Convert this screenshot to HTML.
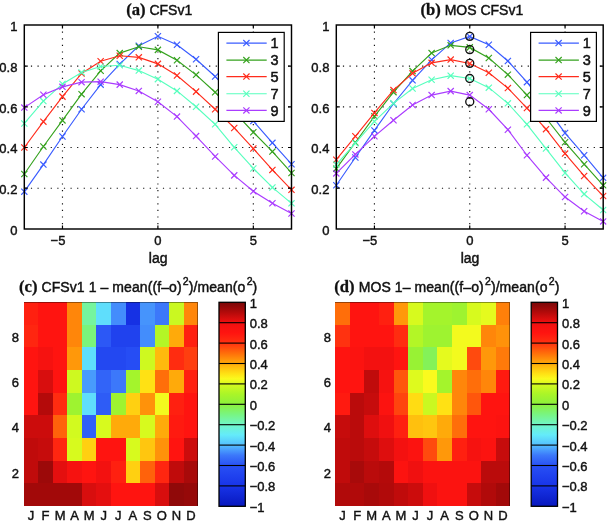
<!DOCTYPE html>
<html><head><meta charset="utf-8"><title>fig</title>
<style>
html,body{margin:0;padding:0;background:#fff;}
svg{display:block;will-change:transform}
.t{font-family:"Liberation Sans", sans-serif;font-size:13px;fill:#111;stroke:#111;stroke-width:0.42px}
.ti{font-family:"Liberation Sans", sans-serif;font-size:14px;fill:#111;stroke:#111;stroke-width:0.45px}
.lg{font-family:"Liberation Sans", sans-serif;font-size:14.5px;fill:#111;stroke:#111;stroke-width:0.5px}
.b{font-family:"Liberation Serif", serif;font-weight:bold;font-size:16.6px;stroke-width:0.3px}
.grid{stroke:#111;stroke-width:1.15;stroke-dasharray:1.2 5.4;}
</style></head><body>
<svg width="607" height="523" viewBox="0 0 607 523">
<rect width="607" height="523" fill="#fff"/>
<g>
<line x1="24.3" y1="188.2" x2="291.5" y2="188.2" class="grid"/>
<line x1="24.3" y1="147.5" x2="291.5" y2="147.5" class="grid"/>
<line x1="24.3" y1="106.8" x2="291.5" y2="106.8" class="grid"/>
<line x1="24.3" y1="66.1" x2="291.5" y2="66.1" class="grid"/>
<line x1="62.47" y1="25" x2="62.47" y2="229" class="grid"/>
<line x1="157.9" y1="25" x2="157.9" y2="229" class="grid"/>
<line x1="253.33" y1="25" x2="253.33" y2="229" class="grid"/>
<clipPath id="ca"><rect x="20.8" y="25" width="274.2" height="204"/></clipPath>
<g clip-path="url(#ca)">
<polyline points="24.3,191.66 43.39,164.59 62.47,136.51 81.56,109.24 100.64,84.62 119.73,64.06 138.81,45.75 157.9,36.29 176.99,44.81 196.07,59.24 215.16,76.48 234.24,97.85 253.33,121.05 272.41,142.82 291.5,164.19" fill="none" stroke="#3a5cff" stroke-width="1.15"/>
<path d="M21.2 188.56L27.4 194.76M21.2 194.76L27.4 188.56" stroke="#3a5cff" stroke-width="1.15" fill="none"/>
<path d="M40.29 161.49L46.49 167.69M40.29 167.69L46.49 161.49" stroke="#3a5cff" stroke-width="1.15" fill="none"/>
<path d="M59.37 133.41L65.57 139.61M59.37 139.61L65.57 133.41" stroke="#3a5cff" stroke-width="1.15" fill="none"/>
<path d="M78.46 106.14L84.66 112.34M78.46 112.34L84.66 106.14" stroke="#3a5cff" stroke-width="1.15" fill="none"/>
<path d="M97.54 81.52L103.74 87.72M97.54 87.72L103.74 81.52" stroke="#3a5cff" stroke-width="1.15" fill="none"/>
<path d="M116.63 60.96L122.83 67.16M116.63 67.16L122.83 60.96" stroke="#3a5cff" stroke-width="1.15" fill="none"/>
<path d="M135.71 42.65L141.91 48.85M135.71 48.85L141.91 42.65" stroke="#3a5cff" stroke-width="1.15" fill="none"/>
<path d="M154.8 33.19L161 39.39M154.8 39.39L161 33.19" stroke="#3a5cff" stroke-width="1.15" fill="none"/>
<path d="M173.89 41.71L180.09 47.91M173.89 47.91L180.09 41.71" stroke="#3a5cff" stroke-width="1.15" fill="none"/>
<path d="M192.97 56.14L199.17 62.34M192.97 62.34L199.17 56.14" stroke="#3a5cff" stroke-width="1.15" fill="none"/>
<path d="M212.06 73.38L218.26 79.58M212.06 79.58L218.26 73.38" stroke="#3a5cff" stroke-width="1.15" fill="none"/>
<path d="M231.14 94.75L237.34 100.95M231.14 100.95L237.34 94.75" stroke="#3a5cff" stroke-width="1.15" fill="none"/>
<path d="M250.23 117.95L256.43 124.14M250.23 124.14L256.43 117.95" stroke="#3a5cff" stroke-width="1.15" fill="none"/>
<path d="M269.31 139.72L275.51 145.92M269.31 145.92L275.51 139.72" stroke="#3a5cff" stroke-width="1.15" fill="none"/>
<path d="M288.4 161.09L294.6 167.29M288.4 167.29L294.6 161.09" stroke="#3a5cff" stroke-width="1.15" fill="none"/>
<polyline points="24.3,173.96 43.39,146.48 62.47,120.43 81.56,94.18 100.64,70.78 119.73,53.08 138.81,46.77 157.9,49.88 176.99,60.2 196.07,74.85 215.16,92.23 234.24,111.89 253.33,132.24 272.41,151.57 291.5,172.94" fill="none" stroke="#35a21e" stroke-width="1.15"/>
<path d="M21.2 170.86L27.4 177.06M21.2 177.06L27.4 170.86" stroke="#35a21e" stroke-width="1.15" fill="none"/>
<path d="M40.29 143.38L46.49 149.58M40.29 149.58L46.49 143.38" stroke="#35a21e" stroke-width="1.15" fill="none"/>
<path d="M59.37 117.33L65.57 123.53M59.37 123.53L65.57 117.33" stroke="#35a21e" stroke-width="1.15" fill="none"/>
<path d="M78.46 91.08L84.66 97.28M78.46 97.28L84.66 91.08" stroke="#35a21e" stroke-width="1.15" fill="none"/>
<path d="M97.54 67.68L103.74 73.88M97.54 73.88L103.74 67.68" stroke="#35a21e" stroke-width="1.15" fill="none"/>
<path d="M116.63 49.98L122.83 56.18M116.63 56.18L122.83 49.98" stroke="#35a21e" stroke-width="1.15" fill="none"/>
<path d="M135.71 43.67L141.91 49.87M135.71 49.87L141.91 43.67" stroke="#35a21e" stroke-width="1.15" fill="none"/>
<path d="M154.8 46.78L161 52.98M154.8 52.98L161 46.78" stroke="#35a21e" stroke-width="1.15" fill="none"/>
<path d="M173.89 57.1L180.09 63.3M173.89 63.3L180.09 57.1" stroke="#35a21e" stroke-width="1.15" fill="none"/>
<path d="M192.97 71.75L199.17 77.95M192.97 77.95L199.17 71.75" stroke="#35a21e" stroke-width="1.15" fill="none"/>
<path d="M212.06 89.13L218.26 95.33M212.06 95.33L218.26 89.13" stroke="#35a21e" stroke-width="1.15" fill="none"/>
<path d="M231.14 108.79L237.34 114.99M231.14 114.99L237.34 108.79" stroke="#35a21e" stroke-width="1.15" fill="none"/>
<path d="M250.23 129.14L256.43 135.34M250.23 135.34L256.43 129.14" stroke="#35a21e" stroke-width="1.15" fill="none"/>
<path d="M269.31 148.47L275.51 154.67M269.31 154.67L275.51 148.47" stroke="#35a21e" stroke-width="1.15" fill="none"/>
<path d="M288.4 169.84L294.6 176.04M288.4 176.04L294.6 169.84" stroke="#35a21e" stroke-width="1.15" fill="none"/>
<polyline points="24.3,147.5 43.39,121.66 62.47,96.62 81.56,73.43 100.64,61.22 119.73,55.72 138.81,57.35 157.9,63.86 176.99,75.46 196.07,91.62 215.16,109.24 234.24,127.96 253.33,148.52 272.41,169.89 291.5,189.83" fill="none" stroke="#ff2c1c" stroke-width="1.15"/>
<path d="M21.2 144.4L27.4 150.6M21.2 150.6L27.4 144.4" stroke="#ff2c1c" stroke-width="1.15" fill="none"/>
<path d="M40.29 118.56L46.49 124.76M40.29 124.76L46.49 118.56" stroke="#ff2c1c" stroke-width="1.15" fill="none"/>
<path d="M59.37 93.53L65.57 99.72M59.37 99.72L65.57 93.53" stroke="#ff2c1c" stroke-width="1.15" fill="none"/>
<path d="M78.46 70.33L84.66 76.53M78.46 76.53L84.66 70.33" stroke="#ff2c1c" stroke-width="1.15" fill="none"/>
<path d="M97.54 58.12L103.74 64.32M97.54 64.32L103.74 58.12" stroke="#ff2c1c" stroke-width="1.15" fill="none"/>
<path d="M116.63 52.62L122.83 58.82M116.63 58.82L122.83 52.62" stroke="#ff2c1c" stroke-width="1.15" fill="none"/>
<path d="M135.71 54.25L141.91 60.45M135.71 60.45L141.91 54.25" stroke="#ff2c1c" stroke-width="1.15" fill="none"/>
<path d="M154.8 60.76L161 66.96M154.8 66.96L161 60.76" stroke="#ff2c1c" stroke-width="1.15" fill="none"/>
<path d="M173.89 72.36L180.09 78.56M173.89 78.56L180.09 72.36" stroke="#ff2c1c" stroke-width="1.15" fill="none"/>
<path d="M192.97 88.52L199.17 94.72M192.97 94.72L199.17 88.52" stroke="#ff2c1c" stroke-width="1.15" fill="none"/>
<path d="M212.06 106.14L218.26 112.34M212.06 112.34L218.26 106.14" stroke="#ff2c1c" stroke-width="1.15" fill="none"/>
<path d="M231.14 124.86L237.34 131.06M231.14 131.06L237.34 124.86" stroke="#ff2c1c" stroke-width="1.15" fill="none"/>
<path d="M250.23 145.42L256.43 151.62M250.23 151.62L256.43 145.42" stroke="#ff2c1c" stroke-width="1.15" fill="none"/>
<path d="M269.31 166.79L275.51 172.99M269.31 172.99L275.51 166.79" stroke="#ff2c1c" stroke-width="1.15" fill="none"/>
<path d="M288.4 186.73L294.6 192.93M288.4 192.93L294.6 186.73" stroke="#ff2c1c" stroke-width="1.15" fill="none"/>
<polyline points="24.3,123.49 43.39,101.1 62.47,83.91 81.56,72.41 100.64,66.51 119.73,65.29 138.81,70.58 157.9,79.16 176.99,90.93 196.07,106.8 215.16,124.3 234.24,147.3 253.33,168.46 272.41,187.39 291.5,203.34" fill="none" stroke="#58ffbe" stroke-width="1.15"/>
<path d="M21.2 120.39L27.4 126.59M21.2 126.59L27.4 120.39" stroke="#58ffbe" stroke-width="1.15" fill="none"/>
<path d="M40.29 98L46.49 104.2M40.29 104.2L46.49 98" stroke="#58ffbe" stroke-width="1.15" fill="none"/>
<path d="M59.37 80.81L65.57 87.01M59.37 87.01L65.57 80.81" stroke="#58ffbe" stroke-width="1.15" fill="none"/>
<path d="M78.46 69.31L84.66 75.51M78.46 75.51L84.66 69.31" stroke="#58ffbe" stroke-width="1.15" fill="none"/>
<path d="M97.54 63.41L103.74 69.61M97.54 69.61L103.74 63.41" stroke="#58ffbe" stroke-width="1.15" fill="none"/>
<path d="M116.63 62.19L122.83 68.39M116.63 68.39L122.83 62.19" stroke="#58ffbe" stroke-width="1.15" fill="none"/>
<path d="M135.71 67.48L141.91 73.68M135.71 73.68L141.91 67.48" stroke="#58ffbe" stroke-width="1.15" fill="none"/>
<path d="M154.8 76.06L161 82.26M154.8 82.26L161 76.06" stroke="#58ffbe" stroke-width="1.15" fill="none"/>
<path d="M173.89 87.83L180.09 94.03M173.89 94.03L180.09 87.83" stroke="#58ffbe" stroke-width="1.15" fill="none"/>
<path d="M192.97 103.7L199.17 109.9M192.97 109.9L199.17 103.7" stroke="#58ffbe" stroke-width="1.15" fill="none"/>
<path d="M212.06 121.2L218.26 127.4M212.06 127.4L218.26 121.2" stroke="#58ffbe" stroke-width="1.15" fill="none"/>
<path d="M231.14 144.2L237.34 150.4M231.14 150.4L237.34 144.2" stroke="#58ffbe" stroke-width="1.15" fill="none"/>
<path d="M250.23 165.36L256.43 171.56M250.23 171.56L256.43 165.36" stroke="#58ffbe" stroke-width="1.15" fill="none"/>
<path d="M269.31 184.29L275.51 190.49M269.31 190.49L275.51 184.29" stroke="#58ffbe" stroke-width="1.15" fill="none"/>
<path d="M288.4 200.24L294.6 206.44M288.4 206.44L294.6 200.24" stroke="#58ffbe" stroke-width="1.15" fill="none"/>
<polyline points="24.3,107.61 43.39,94.79 62.47,86.86 81.56,82.18 100.64,81.67 119.73,84.62 138.81,90.93 157.9,101.81 176.99,116.57 196.07,136.1 215.16,156.45 234.24,175.38 253.33,191.31 272.41,203.26 291.5,213.47" fill="none" stroke="#aa3cff" stroke-width="1.15"/>
<path d="M21.2 104.51L27.4 110.71M21.2 110.71L27.4 104.51" stroke="#aa3cff" stroke-width="1.15" fill="none"/>
<path d="M40.29 91.69L46.49 97.89M40.29 97.89L46.49 91.69" stroke="#aa3cff" stroke-width="1.15" fill="none"/>
<path d="M59.37 83.76L65.57 89.96M59.37 89.96L65.57 83.76" stroke="#aa3cff" stroke-width="1.15" fill="none"/>
<path d="M78.46 79.08L84.66 85.28M78.46 85.28L84.66 79.08" stroke="#aa3cff" stroke-width="1.15" fill="none"/>
<path d="M97.54 78.57L103.74 84.77M97.54 84.77L103.74 78.57" stroke="#aa3cff" stroke-width="1.15" fill="none"/>
<path d="M116.63 81.52L122.83 87.72M116.63 87.72L122.83 81.52" stroke="#aa3cff" stroke-width="1.15" fill="none"/>
<path d="M135.71 87.83L141.91 94.03M135.71 94.03L141.91 87.83" stroke="#aa3cff" stroke-width="1.15" fill="none"/>
<path d="M154.8 98.71L161 104.91M154.8 104.91L161 98.71" stroke="#aa3cff" stroke-width="1.15" fill="none"/>
<path d="M173.89 113.47L180.09 119.67M173.89 119.67L180.09 113.47" stroke="#aa3cff" stroke-width="1.15" fill="none"/>
<path d="M192.97 133L199.17 139.2M192.97 139.2L199.17 133" stroke="#aa3cff" stroke-width="1.15" fill="none"/>
<path d="M212.06 153.35L218.26 159.55M212.06 159.55L218.26 153.35" stroke="#aa3cff" stroke-width="1.15" fill="none"/>
<path d="M231.14 172.28L237.34 178.48M231.14 178.48L237.34 172.28" stroke="#aa3cff" stroke-width="1.15" fill="none"/>
<path d="M250.23 188.21L256.43 194.41M250.23 194.41L256.43 188.21" stroke="#aa3cff" stroke-width="1.15" fill="none"/>
<path d="M269.31 200.16L275.51 206.36M269.31 206.36L275.51 200.16" stroke="#aa3cff" stroke-width="1.15" fill="none"/>
<path d="M288.4 210.37L294.6 216.57M288.4 216.57L294.6 210.37" stroke="#aa3cff" stroke-width="1.15" fill="none"/>
</g>
<rect x="24.3" y="25" width="267.2" height="204" fill="none" stroke="#000" stroke-width="1.45"/>
<path d="M24.3 188.2h3.5M291.5 188.2h-3.5" stroke="#000" stroke-width="1.2"/>
<path d="M24.3 147.5h3.5M291.5 147.5h-3.5" stroke="#000" stroke-width="1.2"/>
<path d="M24.3 106.8h3.5M291.5 106.8h-3.5" stroke="#000" stroke-width="1.2"/>
<path d="M24.3 66.1h3.5M291.5 66.1h-3.5" stroke="#000" stroke-width="1.2"/>
<path d="M62.47 25v3.5M62.47 229v-3.5" stroke="#000" stroke-width="1.2"/>
<path d="M157.9 25v3.5M157.9 229v-3.5" stroke="#000" stroke-width="1.2"/>
<path d="M253.33 25v3.5M253.33 229v-3.5" stroke="#000" stroke-width="1.2"/>
<text x="17.4" y="234.7" text-anchor="end" class="t">0</text>
<text x="17.4" y="194" text-anchor="end" class="t">0.2</text>
<text x="17.4" y="153.3" text-anchor="end" class="t">0.4</text>
<text x="17.4" y="112.6" text-anchor="end" class="t">0.6</text>
<text x="17.4" y="71.9" text-anchor="end" class="t">0.8</text>
<text x="17.4" y="31.2" text-anchor="end" class="t">1</text>
<text x="57.97" y="245.1" text-anchor="middle" class="t">−5</text>
<text x="157.9" y="245.1" text-anchor="middle" class="t">0</text>
<text x="253.33" y="245.1" text-anchor="middle" class="t">5</text>
<text x="158.2" y="263.1" text-anchor="middle" class="ti">lag</text>
<text x="126.2" y="15" class="ti"><tspan class="b">(a)</tspan> CFSv1</text>
<rect x="218.4" y="32.4" width="65.8" height="89" fill="#fff" stroke="#000" stroke-width="1.2"/>
<line x1="226.4" y1="43.1" x2="266.7" y2="43.1" stroke="#3a5cff" stroke-width="1.15"/>
<path d="M243.3 40L249.5 46.2M243.3 46.2L249.5 40" stroke="#3a5cff" stroke-width="1.15" fill="none"/>
<text x="270.6" y="48.3" class="lg">1</text>
<line x1="226.4" y1="60.1" x2="266.7" y2="60.1" stroke="#35a21e" stroke-width="1.15"/>
<path d="M243.3 57L249.5 63.2M243.3 63.2L249.5 57" stroke="#35a21e" stroke-width="1.15" fill="none"/>
<text x="270.6" y="65.3" class="lg">3</text>
<line x1="226.4" y1="76.6" x2="266.7" y2="76.6" stroke="#ff2c1c" stroke-width="1.15"/>
<path d="M243.3 73.5L249.5 79.7M243.3 79.7L249.5 73.5" stroke="#ff2c1c" stroke-width="1.15" fill="none"/>
<text x="270.6" y="81.8" class="lg">5</text>
<line x1="226.4" y1="93.7" x2="266.7" y2="93.7" stroke="#58ffbe" stroke-width="1.15"/>
<path d="M243.3 90.6L249.5 96.8M243.3 96.8L249.5 90.6" stroke="#58ffbe" stroke-width="1.15" fill="none"/>
<text x="270.6" y="98.9" class="lg">7</text>
<line x1="226.4" y1="110.4" x2="266.7" y2="110.4" stroke="#aa3cff" stroke-width="1.15"/>
<path d="M243.3 107.3L249.5 113.5M243.3 113.5L249.5 107.3" stroke="#aa3cff" stroke-width="1.15" fill="none"/>
<text x="270.6" y="115.6" class="lg">9</text>
<line x1="336.3" y1="188.2" x2="603.2" y2="188.2" class="grid"/>
<line x1="336.3" y1="147.5" x2="603.2" y2="147.5" class="grid"/>
<line x1="336.3" y1="106.8" x2="603.2" y2="106.8" class="grid"/>
<line x1="336.3" y1="66.1" x2="603.2" y2="66.1" class="grid"/>
<line x1="374.43" y1="25" x2="374.43" y2="229" class="grid"/>
<line x1="469.75" y1="25" x2="469.75" y2="229" class="grid"/>
<line x1="565.07" y1="25" x2="565.07" y2="229" class="grid"/>
<clipPath id="cb"><rect x="332.8" y="25" width="273.9" height="204"/></clipPath>
<g clip-path="url(#cb)">
<polyline points="336.3,185.21 355.36,157.47 374.43,130.41 393.49,103.75 412.56,80.34 431.62,59.79 450.69,42.9 469.75,36.39 488.81,44.81 507.88,61.01 526.94,82.18 546.01,106.8 565.07,133.05 584.14,155.23 603.2,177.86" fill="none" stroke="#3a5cff" stroke-width="1.15"/>
<path d="M333.2 182.11L339.4 188.31M333.2 188.31L339.4 182.11" stroke="#3a5cff" stroke-width="1.15" fill="none"/>
<path d="M352.26 154.37L358.46 160.57M352.26 160.57L358.46 154.37" stroke="#3a5cff" stroke-width="1.15" fill="none"/>
<path d="M371.33 127.31L377.53 133.51M371.33 133.51L377.53 127.31" stroke="#3a5cff" stroke-width="1.15" fill="none"/>
<path d="M390.39 100.65L396.59 106.85M390.39 106.85L396.59 100.65" stroke="#3a5cff" stroke-width="1.15" fill="none"/>
<path d="M409.46 77.25L415.66 83.44M409.46 83.44L415.66 77.25" stroke="#3a5cff" stroke-width="1.15" fill="none"/>
<path d="M428.52 56.69L434.72 62.89M428.52 62.89L434.72 56.69" stroke="#3a5cff" stroke-width="1.15" fill="none"/>
<path d="M447.59 39.8L453.79 46M447.59 46L453.79 39.8" stroke="#3a5cff" stroke-width="1.15" fill="none"/>
<path d="M466.65 33.29L472.85 39.49M466.65 39.49L472.85 33.29" stroke="#3a5cff" stroke-width="1.15" fill="none"/>
<path d="M485.71 41.71L491.91 47.91M485.71 47.91L491.91 41.71" stroke="#3a5cff" stroke-width="1.15" fill="none"/>
<path d="M504.78 57.91L510.98 64.11M504.78 64.11L510.98 57.91" stroke="#3a5cff" stroke-width="1.15" fill="none"/>
<path d="M523.84 79.08L530.04 85.28M523.84 85.28L530.04 79.08" stroke="#3a5cff" stroke-width="1.15" fill="none"/>
<path d="M542.91 103.7L549.11 109.9M542.91 109.9L549.11 103.7" stroke="#3a5cff" stroke-width="1.15" fill="none"/>
<path d="M561.97 129.95L568.17 136.15M561.97 136.15L568.17 129.95" stroke="#3a5cff" stroke-width="1.15" fill="none"/>
<path d="M581.04 152.13L587.24 158.33M581.04 158.33L587.24 152.13" stroke="#3a5cff" stroke-width="1.15" fill="none"/>
<path d="M600.1 174.76L606.3 180.96M600.1 180.96L606.3 174.76" stroke="#3a5cff" stroke-width="1.15" fill="none"/>
<polyline points="336.3,168.66 355.36,142.51 374.43,116.36 393.49,92.15 412.56,71.09 431.62,53.08 450.69,45.34 469.75,47.38 488.81,57.96 507.88,74.65 526.94,95.1 546.01,117.99 565.07,142.27 584.14,164.19 603.2,185.35" fill="none" stroke="#35a21e" stroke-width="1.15"/>
<path d="M333.2 165.56L339.4 171.76M333.2 171.76L339.4 165.56" stroke="#35a21e" stroke-width="1.15" fill="none"/>
<path d="M352.26 139.41L358.46 145.61M352.26 145.61L358.46 139.41" stroke="#35a21e" stroke-width="1.15" fill="none"/>
<path d="M371.33 113.26L377.53 119.46M371.33 119.46L377.53 113.26" stroke="#35a21e" stroke-width="1.15" fill="none"/>
<path d="M390.39 89.05L396.59 95.25M390.39 95.25L396.59 89.05" stroke="#35a21e" stroke-width="1.15" fill="none"/>
<path d="M409.46 67.99L415.66 74.19M409.46 74.19L415.66 67.99" stroke="#35a21e" stroke-width="1.15" fill="none"/>
<path d="M428.52 49.98L434.72 56.18M428.52 56.18L434.72 49.98" stroke="#35a21e" stroke-width="1.15" fill="none"/>
<path d="M447.59 42.24L453.79 48.44M447.59 48.44L453.79 42.24" stroke="#35a21e" stroke-width="1.15" fill="none"/>
<path d="M466.65 44.28L472.85 50.48M466.65 50.48L472.85 44.28" stroke="#35a21e" stroke-width="1.15" fill="none"/>
<path d="M485.71 54.86L491.91 61.06M485.71 61.06L491.91 54.86" stroke="#35a21e" stroke-width="1.15" fill="none"/>
<path d="M504.78 71.55L510.98 77.75M504.78 77.75L510.98 71.55" stroke="#35a21e" stroke-width="1.15" fill="none"/>
<path d="M523.84 92L530.04 98.2M523.84 98.2L530.04 92" stroke="#35a21e" stroke-width="1.15" fill="none"/>
<path d="M542.91 114.89L549.11 121.09M542.91 121.09L549.11 114.89" stroke="#35a21e" stroke-width="1.15" fill="none"/>
<path d="M561.97 139.17L568.17 145.37M561.97 145.37L568.17 139.17" stroke="#35a21e" stroke-width="1.15" fill="none"/>
<path d="M581.04 161.09L587.24 167.29M581.04 167.29L587.24 161.09" stroke="#35a21e" stroke-width="1.15" fill="none"/>
<path d="M600.1 182.25L606.3 188.45M600.1 188.45L606.3 182.25" stroke="#35a21e" stroke-width="1.15" fill="none"/>
<polyline points="336.3,159.71 355.36,136.31 374.43,112.91 393.49,90.11 412.56,73.32 431.62,62.84 450.69,59.59 469.75,63.45 488.81,72.69 507.88,88.08 526.94,108.02 546.01,129.19 565.07,153.61 584.14,175.99 603.2,196.03" fill="none" stroke="#ff2c1c" stroke-width="1.15"/>
<path d="M333.2 156.61L339.4 162.81M333.2 162.81L339.4 156.61" stroke="#ff2c1c" stroke-width="1.15" fill="none"/>
<path d="M352.26 133.21L358.46 139.41M352.26 139.41L358.46 133.21" stroke="#ff2c1c" stroke-width="1.15" fill="none"/>
<path d="M371.33 109.81L377.53 116.01M371.33 116.01L377.53 109.81" stroke="#ff2c1c" stroke-width="1.15" fill="none"/>
<path d="M390.39 87.01L396.59 93.21M390.39 93.21L396.59 87.01" stroke="#ff2c1c" stroke-width="1.15" fill="none"/>
<path d="M409.46 70.22L415.66 76.42M409.46 76.42L415.66 70.22" stroke="#ff2c1c" stroke-width="1.15" fill="none"/>
<path d="M428.52 59.74L434.72 65.94M428.52 65.94L434.72 59.74" stroke="#ff2c1c" stroke-width="1.15" fill="none"/>
<path d="M447.59 56.49L453.79 62.69M447.59 62.69L453.79 56.49" stroke="#ff2c1c" stroke-width="1.15" fill="none"/>
<path d="M466.65 60.35L472.85 66.55M466.65 66.55L472.85 60.35" stroke="#ff2c1c" stroke-width="1.15" fill="none"/>
<path d="M485.71 69.59L491.91 75.79M485.71 75.79L491.91 69.59" stroke="#ff2c1c" stroke-width="1.15" fill="none"/>
<path d="M504.78 84.98L510.98 91.18M504.78 91.18L510.98 84.98" stroke="#ff2c1c" stroke-width="1.15" fill="none"/>
<path d="M523.84 104.92L530.04 111.12M523.84 111.12L530.04 104.92" stroke="#ff2c1c" stroke-width="1.15" fill="none"/>
<path d="M542.91 126.09L549.11 132.28M542.91 132.28L549.11 126.09" stroke="#ff2c1c" stroke-width="1.15" fill="none"/>
<path d="M561.97 150.51L568.17 156.71M561.97 156.71L568.17 150.51" stroke="#ff2c1c" stroke-width="1.15" fill="none"/>
<path d="M581.04 172.89L587.24 179.09M581.04 179.09L587.24 172.89" stroke="#ff2c1c" stroke-width="1.15" fill="none"/>
<path d="M600.1 192.93L606.3 199.13M600.1 199.13L606.3 192.93" stroke="#ff2c1c" stroke-width="1.15" fill="none"/>
<polyline points="336.3,164.59 355.36,143.23 374.43,121.45 393.49,103.34 412.56,88.49 431.62,79.73 450.69,75.66 469.75,78.51 488.81,87.67 507.88,103.34 526.94,124.3 546.01,148.52 565.07,172.94 584.14,194.1 603.2,209.97" fill="none" stroke="#58ffbe" stroke-width="1.15"/>
<path d="M333.2 161.49L339.4 167.69M333.2 167.69L339.4 161.49" stroke="#58ffbe" stroke-width="1.15" fill="none"/>
<path d="M352.26 140.13L358.46 146.33M352.26 146.33L358.46 140.13" stroke="#58ffbe" stroke-width="1.15" fill="none"/>
<path d="M371.33 118.35L377.53 124.55M371.33 124.55L377.53 118.35" stroke="#58ffbe" stroke-width="1.15" fill="none"/>
<path d="M390.39 100.24L396.59 106.44M390.39 106.44L396.59 100.24" stroke="#58ffbe" stroke-width="1.15" fill="none"/>
<path d="M409.46 85.39L415.66 91.59M409.46 91.59L415.66 85.39" stroke="#58ffbe" stroke-width="1.15" fill="none"/>
<path d="M428.52 76.63L434.72 82.83M428.52 82.83L434.72 76.63" stroke="#58ffbe" stroke-width="1.15" fill="none"/>
<path d="M447.59 72.56L453.79 78.76M447.59 78.76L453.79 72.56" stroke="#58ffbe" stroke-width="1.15" fill="none"/>
<path d="M466.65 75.41L472.85 81.61M466.65 81.61L472.85 75.41" stroke="#58ffbe" stroke-width="1.15" fill="none"/>
<path d="M485.71 84.57L491.91 90.77M485.71 90.77L491.91 84.57" stroke="#58ffbe" stroke-width="1.15" fill="none"/>
<path d="M504.78 100.24L510.98 106.44M504.78 106.44L510.98 100.24" stroke="#58ffbe" stroke-width="1.15" fill="none"/>
<path d="M523.84 121.2L530.04 127.4M523.84 127.4L530.04 121.2" stroke="#58ffbe" stroke-width="1.15" fill="none"/>
<path d="M542.91 145.42L549.11 151.62M542.91 151.62L549.11 145.42" stroke="#58ffbe" stroke-width="1.15" fill="none"/>
<path d="M561.97 169.84L568.17 176.04M561.97 176.04L568.17 169.84" stroke="#58ffbe" stroke-width="1.15" fill="none"/>
<path d="M581.04 191L587.24 197.2M581.04 197.2L587.24 191" stroke="#58ffbe" stroke-width="1.15" fill="none"/>
<path d="M600.1 206.87L606.3 213.07M600.1 213.07L606.3 206.87" stroke="#58ffbe" stroke-width="1.15" fill="none"/>
<polyline points="336.3,173.39 355.36,154.42 374.43,136.31 393.49,120.23 412.56,105.05 431.62,95.1 450.69,91.13 469.75,95.1 488.81,109.3 507.88,129.69 526.94,155.23 546.01,177.62 565.07,197.05 584.14,211.24 603.2,221.43" fill="none" stroke="#aa3cff" stroke-width="1.15"/>
<path d="M333.2 170.29L339.4 176.49M333.2 176.49L339.4 170.29" stroke="#aa3cff" stroke-width="1.15" fill="none"/>
<path d="M352.26 151.32L358.46 157.52M352.26 157.52L358.46 151.32" stroke="#aa3cff" stroke-width="1.15" fill="none"/>
<path d="M371.33 133.21L377.53 139.41M371.33 139.41L377.53 133.21" stroke="#aa3cff" stroke-width="1.15" fill="none"/>
<path d="M390.39 117.13L396.59 123.33M390.39 123.33L396.59 117.13" stroke="#aa3cff" stroke-width="1.15" fill="none"/>
<path d="M409.46 101.95L415.66 108.15M409.46 108.15L415.66 101.95" stroke="#aa3cff" stroke-width="1.15" fill="none"/>
<path d="M428.52 92L434.72 98.2M428.52 98.2L434.72 92" stroke="#aa3cff" stroke-width="1.15" fill="none"/>
<path d="M447.59 88.03L453.79 94.23M447.59 94.23L453.79 88.03" stroke="#aa3cff" stroke-width="1.15" fill="none"/>
<path d="M466.65 92L472.85 98.2M466.65 98.2L472.85 92" stroke="#aa3cff" stroke-width="1.15" fill="none"/>
<path d="M485.71 106.2L491.91 112.4M485.71 112.4L491.91 106.2" stroke="#aa3cff" stroke-width="1.15" fill="none"/>
<path d="M504.78 126.59L510.98 132.79M504.78 132.79L510.98 126.59" stroke="#aa3cff" stroke-width="1.15" fill="none"/>
<path d="M523.84 152.13L530.04 158.33M523.84 158.33L530.04 152.13" stroke="#aa3cff" stroke-width="1.15" fill="none"/>
<path d="M542.91 174.52L549.11 180.72M542.91 180.72L549.11 174.52" stroke="#aa3cff" stroke-width="1.15" fill="none"/>
<path d="M561.97 193.95L568.17 200.15M561.97 200.15L568.17 193.95" stroke="#aa3cff" stroke-width="1.15" fill="none"/>
<path d="M581.04 208.14L587.24 214.34M581.04 214.34L587.24 208.14" stroke="#aa3cff" stroke-width="1.15" fill="none"/>
<path d="M600.1 218.33L606.3 224.53M600.1 224.53L606.3 218.33" stroke="#aa3cff" stroke-width="1.15" fill="none"/>
</g>
<circle cx="469.75" cy="36.35" r="4.0" fill="none" stroke="#111" stroke-width="1.35"/>
<circle cx="469.75" cy="49.62" r="4.0" fill="none" stroke="#111" stroke-width="1.35"/>
<circle cx="469.75" cy="63.37" r="4.0" fill="none" stroke="#111" stroke-width="1.35"/>
<circle cx="469.75" cy="78.51" r="4.0" fill="none" stroke="#111" stroke-width="1.35"/>
<circle cx="469.75" cy="101.75" r="4.0" fill="none" stroke="#111" stroke-width="1.35"/>
<rect x="336.3" y="25" width="266.9" height="204" fill="none" stroke="#000" stroke-width="1.45"/>
<path d="M336.3 188.2h3.5M603.2 188.2h-3.5" stroke="#000" stroke-width="1.2"/>
<path d="M336.3 147.5h3.5M603.2 147.5h-3.5" stroke="#000" stroke-width="1.2"/>
<path d="M336.3 106.8h3.5M603.2 106.8h-3.5" stroke="#000" stroke-width="1.2"/>
<path d="M336.3 66.1h3.5M603.2 66.1h-3.5" stroke="#000" stroke-width="1.2"/>
<path d="M374.43 25v3.5M374.43 229v-3.5" stroke="#000" stroke-width="1.2"/>
<path d="M469.75 25v3.5M469.75 229v-3.5" stroke="#000" stroke-width="1.2"/>
<path d="M565.07 25v3.5M565.07 229v-3.5" stroke="#000" stroke-width="1.2"/>
<text x="329.4" y="234.7" text-anchor="end" class="t">0</text>
<text x="329.4" y="194" text-anchor="end" class="t">0.2</text>
<text x="329.4" y="153.3" text-anchor="end" class="t">0.4</text>
<text x="329.4" y="112.6" text-anchor="end" class="t">0.6</text>
<text x="329.4" y="71.9" text-anchor="end" class="t">0.8</text>
<text x="329.4" y="31.2" text-anchor="end" class="t">1</text>
<text x="369.93" y="245.1" text-anchor="middle" class="t">−5</text>
<text x="469.75" y="245.1" text-anchor="middle" class="t">0</text>
<text x="565.07" y="245.1" text-anchor="middle" class="t">5</text>
<text x="470.05" y="263.1" text-anchor="middle" class="ti">lag</text>
<text x="420.5" y="15" class="ti"><tspan class="b">(b)</tspan> MOS CFSv1</text>
<rect x="530.6" y="32.4" width="65.8" height="89" fill="#fff" stroke="#000" stroke-width="1.2"/>
<line x1="538.6" y1="43.1" x2="578.9" y2="43.1" stroke="#3a5cff" stroke-width="1.15"/>
<path d="M555.5 40L561.7 46.2M555.5 46.2L561.7 40" stroke="#3a5cff" stroke-width="1.15" fill="none"/>
<text x="582.8" y="48.3" class="lg">1</text>
<line x1="538.6" y1="60.1" x2="578.9" y2="60.1" stroke="#35a21e" stroke-width="1.15"/>
<path d="M555.5 57L561.7 63.2M555.5 63.2L561.7 57" stroke="#35a21e" stroke-width="1.15" fill="none"/>
<text x="582.8" y="65.3" class="lg">3</text>
<line x1="538.6" y1="76.6" x2="578.9" y2="76.6" stroke="#ff2c1c" stroke-width="1.15"/>
<path d="M555.5 73.5L561.7 79.7M555.5 79.7L561.7 73.5" stroke="#ff2c1c" stroke-width="1.15" fill="none"/>
<text x="582.8" y="81.8" class="lg">5</text>
<line x1="538.6" y1="93.7" x2="578.9" y2="93.7" stroke="#58ffbe" stroke-width="1.15"/>
<path d="M555.5 90.6L561.7 96.8M555.5 96.8L561.7 90.6" stroke="#58ffbe" stroke-width="1.15" fill="none"/>
<text x="582.8" y="98.9" class="lg">7</text>
<line x1="538.6" y1="110.4" x2="578.9" y2="110.4" stroke="#aa3cff" stroke-width="1.15"/>
<path d="M555.5 107.3L561.7 113.5M555.5 113.5L561.7 107.3" stroke="#aa3cff" stroke-width="1.15" fill="none"/>
<text x="582.8" y="115.6" class="lg">9</text>
<g shape-rendering="crispEdges">
<rect x="24" y="302" width="14" height="23" fill="#ff2010"/>
<rect x="38" y="302" width="15" height="23" fill="#ff1410"/>
<rect x="53" y="302" width="14" height="23" fill="#ff1410"/>
<rect x="67" y="302" width="15" height="23" fill="#ff860a"/>
<rect x="82" y="302" width="14" height="23" fill="#75f59e"/>
<rect x="96" y="302" width="15" height="23" fill="#5fdefc"/>
<rect x="111" y="302" width="15" height="23" fill="#438dfc"/>
<rect x="126" y="302" width="14" height="23" fill="#1631e4"/>
<rect x="140" y="302" width="15" height="23" fill="#4694fc"/>
<rect x="155" y="302" width="14" height="23" fill="#3c78fa"/>
<rect x="169" y="302" width="15" height="23" fill="#caf821"/>
<rect x="184" y="302" width="14" height="23" fill="#ff860a"/>
<rect x="24" y="325" width="14" height="22" fill="#ff2610"/>
<rect x="38" y="325" width="15" height="22" fill="#ff1410"/>
<rect x="53" y="325" width="14" height="22" fill="#ff1410"/>
<rect x="67" y="325" width="15" height="22" fill="#ff860a"/>
<rect x="82" y="325" width="14" height="22" fill="#7af47b"/>
<rect x="96" y="325" width="15" height="22" fill="#2c58f6"/>
<rect x="111" y="325" width="15" height="22" fill="#2042ee"/>
<rect x="126" y="325" width="14" height="22" fill="#2042ee"/>
<rect x="140" y="325" width="15" height="22" fill="#438dfc"/>
<rect x="155" y="325" width="14" height="22" fill="#b3f626"/>
<rect x="169" y="325" width="15" height="22" fill="#ffaa0a"/>
<rect x="184" y="325" width="14" height="22" fill="#ff2010"/>
<rect x="24" y="347" width="14" height="23" fill="#ff1410"/>
<rect x="38" y="347" width="15" height="23" fill="#f61210"/>
<rect x="53" y="347" width="14" height="23" fill="#ff1410"/>
<rect x="67" y="347" width="15" height="23" fill="#ff980a"/>
<rect x="82" y="347" width="14" height="23" fill="#5fdefc"/>
<rect x="96" y="347" width="15" height="23" fill="#2348f1"/>
<rect x="111" y="347" width="15" height="23" fill="#2348f1"/>
<rect x="126" y="347" width="14" height="23" fill="#264df4"/>
<rect x="140" y="347" width="15" height="23" fill="#cef920"/>
<rect x="155" y="347" width="14" height="23" fill="#ffba0d"/>
<rect x="169" y="347" width="15" height="23" fill="#ff2c10"/>
<rect x="184" y="347" width="14" height="23" fill="#ff3e0f"/>
<rect x="24" y="370" width="14" height="23" fill="#ff1410"/>
<rect x="38" y="370" width="15" height="23" fill="#d80e0e"/>
<rect x="53" y="370" width="14" height="23" fill="#ff1410"/>
<rect x="67" y="370" width="15" height="23" fill="#cef920"/>
<rect x="82" y="370" width="14" height="23" fill="#489bfc"/>
<rect x="96" y="370" width="15" height="23" fill="#3264f8"/>
<rect x="111" y="370" width="15" height="23" fill="#3c78fa"/>
<rect x="126" y="370" width="14" height="23" fill="#a4f42c"/>
<rect x="140" y="370" width="15" height="23" fill="#ffe114"/>
<rect x="155" y="370" width="14" height="23" fill="#ff6e0a"/>
<rect x="169" y="370" width="15" height="23" fill="#ffaa0a"/>
<rect x="184" y="370" width="14" height="23" fill="#ff2010"/>
<rect x="24" y="393" width="14" height="22" fill="#ff1410"/>
<rect x="38" y="393" width="15" height="22" fill="#b40a0a"/>
<rect x="53" y="393" width="14" height="22" fill="#ff2c10"/>
<rect x="67" y="393" width="15" height="22" fill="#9ef330"/>
<rect x="82" y="393" width="14" height="22" fill="#5fdefc"/>
<rect x="96" y="393" width="15" height="22" fill="#2e5cf6"/>
<rect x="111" y="393" width="15" height="22" fill="#9ef330"/>
<rect x="126" y="393" width="14" height="22" fill="#ffd011"/>
<rect x="140" y="393" width="15" height="22" fill="#ff920a"/>
<rect x="155" y="393" width="14" height="22" fill="#f3fa1e"/>
<rect x="169" y="393" width="15" height="22" fill="#ff2010"/>
<rect x="184" y="393" width="14" height="22" fill="#ff1410"/>
<rect x="24" y="415" width="14" height="23" fill="#cc0c0c"/>
<rect x="38" y="415" width="15" height="23" fill="#cc0c0c"/>
<rect x="53" y="415" width="14" height="23" fill="#ff620b"/>
<rect x="67" y="415" width="15" height="23" fill="#d2fa1f"/>
<rect x="82" y="415" width="14" height="23" fill="#3060f7"/>
<rect x="96" y="415" width="15" height="23" fill="#d7fa1e"/>
<rect x="111" y="415" width="15" height="23" fill="#ffaa0a"/>
<rect x="126" y="415" width="14" height="23" fill="#ffaa0a"/>
<rect x="140" y="415" width="15" height="23" fill="#d7fa1e"/>
<rect x="155" y="415" width="14" height="23" fill="#ffaa0a"/>
<rect x="169" y="415" width="15" height="23" fill="#ff1a10"/>
<rect x="184" y="415" width="14" height="23" fill="#ff1410"/>
<rect x="24" y="438" width="14" height="23" fill="#c00b0b"/>
<rect x="38" y="438" width="15" height="23" fill="#c60c0c"/>
<rect x="53" y="438" width="14" height="23" fill="#ff2610"/>
<rect x="67" y="438" width="15" height="23" fill="#d7fa1e"/>
<rect x="82" y="438" width="14" height="23" fill="#ffd011"/>
<rect x="96" y="438" width="15" height="23" fill="#ff1410"/>
<rect x="111" y="438" width="15" height="23" fill="#ff1410"/>
<rect x="126" y="438" width="14" height="23" fill="#d7fa1e"/>
<rect x="140" y="438" width="15" height="23" fill="#ffc60f"/>
<rect x="155" y="438" width="14" height="23" fill="#ff920a"/>
<rect x="169" y="438" width="15" height="23" fill="#ff1410"/>
<rect x="184" y="438" width="14" height="23" fill="#cc0c0c"/>
<rect x="24" y="461" width="14" height="22" fill="#c00b0b"/>
<rect x="38" y="461" width="15" height="22" fill="#9c0909"/>
<rect x="53" y="461" width="14" height="22" fill="#e40f0f"/>
<rect x="67" y="461" width="15" height="22" fill="#f61210"/>
<rect x="82" y="461" width="14" height="22" fill="#ff1410"/>
<rect x="96" y="461" width="15" height="22" fill="#f31110"/>
<rect x="111" y="461" width="15" height="22" fill="#ff2010"/>
<rect x="126" y="461" width="14" height="22" fill="#ffd011"/>
<rect x="140" y="461" width="15" height="22" fill="#ff620b"/>
<rect x="155" y="461" width="14" height="22" fill="#ff2610"/>
<rect x="169" y="461" width="15" height="22" fill="#c00b0b"/>
<rect x="184" y="461" width="14" height="22" fill="#a80a0a"/>
<rect x="24" y="483" width="14" height="23" fill="#a20909"/>
<rect x="38" y="483" width="15" height="23" fill="#a20909"/>
<rect x="53" y="483" width="14" height="23" fill="#a20909"/>
<rect x="67" y="483" width="15" height="23" fill="#a20909"/>
<rect x="82" y="483" width="14" height="23" fill="#d80e0e"/>
<rect x="96" y="483" width="15" height="23" fill="#e40f0f"/>
<rect x="111" y="483" width="15" height="23" fill="#ff1410"/>
<rect x="126" y="483" width="14" height="23" fill="#ff1410"/>
<rect x="140" y="483" width="15" height="23" fill="#ff1410"/>
<rect x="155" y="483" width="14" height="23" fill="#d80e0e"/>
<rect x="169" y="483" width="15" height="23" fill="#900909"/>
<rect x="184" y="483" width="14" height="23" fill="#960909"/>
<path d="M24 302.5H197.5V506" fill="none" stroke="#000" stroke-opacity="0.4" stroke-width="1"/>
</g>
<text x="19" y="477.6" text-anchor="end" class="t">2</text>
<text x="19" y="432.27" text-anchor="end" class="t">4</text>
<text x="19" y="386.93" text-anchor="end" class="t">6</text>
<text x="19" y="341.6" text-anchor="end" class="t">8</text>
<text x="31.07" y="519.6" text-anchor="middle" class="t">J</text>
<text x="45.6" y="519.6" text-anchor="middle" class="t">F</text>
<text x="60.13" y="519.6" text-anchor="middle" class="t">M</text>
<text x="74.67" y="519.6" text-anchor="middle" class="t">A</text>
<text x="89.2" y="519.6" text-anchor="middle" class="t">M</text>
<text x="103.73" y="519.6" text-anchor="middle" class="t">J</text>
<text x="118.27" y="519.6" text-anchor="middle" class="t">J</text>
<text x="132.8" y="519.6" text-anchor="middle" class="t">A</text>
<text x="147.33" y="519.6" text-anchor="middle" class="t">S</text>
<text x="161.87" y="519.6" text-anchor="middle" class="t">O</text>
<text x="176.4" y="519.6" text-anchor="middle" class="t">N</text>
<text x="190.93" y="519.6" text-anchor="middle" class="t">D</text>
<linearGradient id="gc" x1="0" y1="0" x2="0" y2="1"><stop offset="0%" stop-color="#780808"/><stop offset="5%" stop-color="#b40a0a"/><stop offset="10%" stop-color="#f01010"/><stop offset="15%" stop-color="#ff1410"/><stop offset="20%" stop-color="#ff3210"/><stop offset="25%" stop-color="#ff6e0a"/><stop offset="30%" stop-color="#ffaa0a"/><stop offset="35%" stop-color="#ffe114"/><stop offset="37.5%" stop-color="#fafa1e"/><stop offset="40%" stop-color="#d7fa1e"/><stop offset="45%" stop-color="#aaf528"/><stop offset="50%" stop-color="#8cf03c"/><stop offset="55%" stop-color="#78f582"/><stop offset="60%" stop-color="#70f5c8"/><stop offset="65%" stop-color="#64ebfa"/><stop offset="70%" stop-color="#54beff"/><stop offset="75%" stop-color="#3c78fa"/><stop offset="80%" stop-color="#2850f5"/><stop offset="90%" stop-color="#1834e8"/><stop offset="100%" stop-color="#0818be"/></linearGradient>
<rect x="219" y="302.3" width="26.3" height="204" fill="url(#gc)" stroke="#000" stroke-width="1.3"/>
<text x="249.7" y="307.7" class="t">1</text>
<line x1="219" y1="322.7" x2="245.3" y2="322.7" stroke="#000" stroke-width="1.1"/>
<text x="249.7" y="328.1" class="t">0.8</text>
<line x1="219" y1="343.1" x2="245.3" y2="343.1" stroke="#000" stroke-width="1.1"/>
<text x="249.7" y="348.5" class="t">0.6</text>
<line x1="219" y1="363.5" x2="245.3" y2="363.5" stroke="#000" stroke-width="1.1"/>
<text x="249.7" y="368.9" class="t">0.4</text>
<line x1="219" y1="383.9" x2="245.3" y2="383.9" stroke="#000" stroke-width="1.1"/>
<text x="249.7" y="389.3" class="t">0.2</text>
<line x1="219" y1="404.3" x2="245.3" y2="404.3" stroke="#000" stroke-width="1.1"/>
<text x="249.7" y="409.7" class="t">0</text>
<line x1="219" y1="424.7" x2="245.3" y2="424.7" stroke="#000" stroke-width="1.1"/>
<text x="249.7" y="430.1" class="t">−0.2</text>
<line x1="219" y1="445.1" x2="245.3" y2="445.1" stroke="#000" stroke-width="1.1"/>
<text x="249.7" y="450.5" class="t">−0.4</text>
<line x1="219" y1="465.5" x2="245.3" y2="465.5" stroke="#000" stroke-width="1.1"/>
<text x="249.7" y="470.9" class="t">−0.6</text>
<line x1="219" y1="485.9" x2="245.3" y2="485.9" stroke="#000" stroke-width="1.1"/>
<text x="249.7" y="491.3" class="t">−0.8</text>
<text x="249.7" y="511.7" class="t">−1</text>
<text x="18.9" y="291.5" class="ti" letter-spacing="0.08"><tspan class="b">(c)</tspan> CFSv1 1 – mean((f–o)<tspan dy="-6.5" dx="1.2" font-size="10.5">2</tspan><tspan dy="6.5">)/mean(o</tspan><tspan dy="-6.5" dx="1.2" font-size="10.5">2</tspan><tspan dy="6.5">)</tspan></text>
<g shape-rendering="crispEdges">
<rect x="335" y="302" width="15" height="23" fill="#ff6e0a"/>
<rect x="350" y="302" width="14" height="23" fill="#ff1410"/>
<rect x="364" y="302" width="15" height="23" fill="#ff1410"/>
<rect x="379" y="302" width="15" height="23" fill="#ff2010"/>
<rect x="394" y="302" width="14" height="23" fill="#ff980a"/>
<rect x="408" y="302" width="15" height="23" fill="#d7fa1e"/>
<rect x="423" y="302" width="14" height="23" fill="#a4f42c"/>
<rect x="437" y="302" width="15" height="23" fill="#a4f42c"/>
<rect x="452" y="302" width="15" height="23" fill="#9ef330"/>
<rect x="467" y="302" width="14" height="23" fill="#d7fa1e"/>
<rect x="481" y="302" width="15" height="23" fill="#e5fa1e"/>
<rect x="496" y="302" width="14" height="23" fill="#ff800a"/>
<rect x="335" y="325" width="15" height="22" fill="#ff3210"/>
<rect x="350" y="325" width="14" height="22" fill="#ff1410"/>
<rect x="364" y="325" width="15" height="22" fill="#ff1410"/>
<rect x="379" y="325" width="15" height="22" fill="#ff1410"/>
<rect x="394" y="325" width="14" height="22" fill="#ff2c10"/>
<rect x="408" y="325" width="15" height="22" fill="#b3f626"/>
<rect x="423" y="325" width="14" height="22" fill="#9ef330"/>
<rect x="437" y="325" width="15" height="22" fill="#9ef330"/>
<rect x="452" y="325" width="15" height="22" fill="#f3fa1e"/>
<rect x="467" y="325" width="14" height="22" fill="#f3fa1e"/>
<rect x="481" y="325" width="15" height="22" fill="#ff860a"/>
<rect x="496" y="325" width="14" height="22" fill="#ff920a"/>
<rect x="335" y="347" width="15" height="23" fill="#ff1410"/>
<rect x="350" y="347" width="14" height="23" fill="#fc1310"/>
<rect x="364" y="347" width="15" height="23" fill="#f31110"/>
<rect x="379" y="347" width="15" height="23" fill="#f31110"/>
<rect x="394" y="347" width="14" height="23" fill="#ff1410"/>
<rect x="408" y="347" width="15" height="23" fill="#98f234"/>
<rect x="423" y="347" width="14" height="23" fill="#84f258"/>
<rect x="437" y="347" width="15" height="23" fill="#e5fa1e"/>
<rect x="452" y="347" width="15" height="23" fill="#f3fa1e"/>
<rect x="467" y="347" width="14" height="23" fill="#ff4a0e"/>
<rect x="481" y="347" width="15" height="23" fill="#ff980a"/>
<rect x="496" y="347" width="14" height="23" fill="#ff7a0a"/>
<rect x="335" y="370" width="15" height="23" fill="#ff1410"/>
<rect x="350" y="370" width="14" height="23" fill="#ff1410"/>
<rect x="364" y="370" width="15" height="23" fill="#c00b0b"/>
<rect x="379" y="370" width="15" height="23" fill="#f61210"/>
<rect x="394" y="370" width="14" height="23" fill="#ff560c"/>
<rect x="408" y="370" width="15" height="23" fill="#defa1e"/>
<rect x="423" y="370" width="14" height="23" fill="#fafa1e"/>
<rect x="437" y="370" width="15" height="23" fill="#a4f42c"/>
<rect x="452" y="370" width="15" height="23" fill="#ff860a"/>
<rect x="467" y="370" width="14" height="23" fill="#ff6e0a"/>
<rect x="481" y="370" width="15" height="23" fill="#ff860a"/>
<rect x="496" y="370" width="14" height="23" fill="#ff1a10"/>
<rect x="335" y="393" width="15" height="22" fill="#ff1a10"/>
<rect x="350" y="393" width="14" height="22" fill="#ba0b0b"/>
<rect x="364" y="393" width="15" height="22" fill="#c60c0c"/>
<rect x="379" y="393" width="15" height="22" fill="#fc1310"/>
<rect x="394" y="393" width="14" height="22" fill="#ff440e"/>
<rect x="408" y="393" width="15" height="22" fill="#ffdc13"/>
<rect x="423" y="393" width="14" height="22" fill="#caf821"/>
<rect x="437" y="393" width="15" height="22" fill="#ffe114"/>
<rect x="452" y="393" width="15" height="22" fill="#ff860a"/>
<rect x="467" y="393" width="14" height="22" fill="#ff560c"/>
<rect x="481" y="393" width="15" height="22" fill="#ff1410"/>
<rect x="496" y="393" width="14" height="22" fill="#ff1410"/>
<rect x="335" y="415" width="15" height="23" fill="#c60c0c"/>
<rect x="350" y="415" width="14" height="23" fill="#ba0b0b"/>
<rect x="364" y="415" width="15" height="23" fill="#de0e0e"/>
<rect x="379" y="415" width="15" height="23" fill="#f01010"/>
<rect x="394" y="415" width="14" height="23" fill="#ff2010"/>
<rect x="408" y="415" width="15" height="23" fill="#ffc00e"/>
<rect x="423" y="415" width="14" height="23" fill="#ffc60f"/>
<rect x="437" y="415" width="15" height="23" fill="#ffaa0a"/>
<rect x="452" y="415" width="15" height="23" fill="#ff6e0a"/>
<rect x="467" y="415" width="14" height="23" fill="#ff1410"/>
<rect x="481" y="415" width="15" height="23" fill="#ff1410"/>
<rect x="496" y="415" width="14" height="23" fill="#fc1310"/>
<rect x="335" y="438" width="15" height="23" fill="#c00b0b"/>
<rect x="350" y="438" width="14" height="23" fill="#ba0b0b"/>
<rect x="364" y="438" width="15" height="23" fill="#c60c0c"/>
<rect x="379" y="438" width="15" height="23" fill="#de0e0e"/>
<rect x="394" y="438" width="14" height="23" fill="#f41110"/>
<rect x="408" y="438" width="15" height="23" fill="#fc1310"/>
<rect x="423" y="438" width="14" height="23" fill="#ff4a0e"/>
<rect x="437" y="438" width="15" height="23" fill="#ff980a"/>
<rect x="452" y="438" width="15" height="23" fill="#ff2010"/>
<rect x="467" y="438" width="14" height="23" fill="#f61210"/>
<rect x="481" y="438" width="15" height="23" fill="#fc1310"/>
<rect x="496" y="438" width="14" height="23" fill="#c60c0c"/>
<rect x="335" y="461" width="15" height="22" fill="#c00b0b"/>
<rect x="350" y="461" width="14" height="22" fill="#a80a0a"/>
<rect x="364" y="461" width="15" height="22" fill="#ba0b0b"/>
<rect x="379" y="461" width="15" height="22" fill="#b40a0a"/>
<rect x="394" y="461" width="14" height="22" fill="#fc1310"/>
<rect x="408" y="461" width="15" height="22" fill="#f01010"/>
<rect x="423" y="461" width="14" height="22" fill="#fc1310"/>
<rect x="437" y="461" width="15" height="22" fill="#fc1310"/>
<rect x="452" y="461" width="15" height="22" fill="#fc1310"/>
<rect x="467" y="461" width="14" height="22" fill="#fc1310"/>
<rect x="481" y="461" width="15" height="22" fill="#ba0b0b"/>
<rect x="496" y="461" width="14" height="22" fill="#ba0b0b"/>
<rect x="335" y="483" width="15" height="23" fill="#b10a0a"/>
<rect x="350" y="483" width="14" height="23" fill="#b10a0a"/>
<rect x="364" y="483" width="15" height="23" fill="#a80a0a"/>
<rect x="379" y="483" width="15" height="23" fill="#b10a0a"/>
<rect x="394" y="483" width="14" height="23" fill="#c00b0b"/>
<rect x="408" y="483" width="15" height="23" fill="#cc0c0c"/>
<rect x="423" y="483" width="14" height="23" fill="#f01010"/>
<rect x="437" y="483" width="15" height="23" fill="#fc1310"/>
<rect x="452" y="483" width="15" height="23" fill="#fc1310"/>
<rect x="467" y="483" width="14" height="23" fill="#c60c0c"/>
<rect x="481" y="483" width="15" height="23" fill="#b10a0a"/>
<rect x="496" y="483" width="14" height="23" fill="#a20909"/>
<path d="M335 302.5H509.5V506" fill="none" stroke="#000" stroke-opacity="0.4" stroke-width="1"/>
</g>
<text x="331" y="477.6" text-anchor="end" class="t">2</text>
<text x="331" y="432.27" text-anchor="end" class="t">4</text>
<text x="331" y="386.93" text-anchor="end" class="t">6</text>
<text x="331" y="341.6" text-anchor="end" class="t">8</text>
<text x="342.59" y="519.6" text-anchor="middle" class="t">J</text>
<text x="357.18" y="519.6" text-anchor="middle" class="t">F</text>
<text x="371.76" y="519.6" text-anchor="middle" class="t">M</text>
<text x="386.34" y="519.6" text-anchor="middle" class="t">A</text>
<text x="400.93" y="519.6" text-anchor="middle" class="t">M</text>
<text x="415.51" y="519.6" text-anchor="middle" class="t">J</text>
<text x="430.09" y="519.6" text-anchor="middle" class="t">J</text>
<text x="444.68" y="519.6" text-anchor="middle" class="t">A</text>
<text x="459.26" y="519.6" text-anchor="middle" class="t">S</text>
<text x="473.84" y="519.6" text-anchor="middle" class="t">O</text>
<text x="488.43" y="519.6" text-anchor="middle" class="t">N</text>
<text x="503.01" y="519.6" text-anchor="middle" class="t">D</text>
<linearGradient id="gd" x1="0" y1="0" x2="0" y2="1"><stop offset="0%" stop-color="#780808"/><stop offset="5%" stop-color="#b40a0a"/><stop offset="10%" stop-color="#f01010"/><stop offset="15%" stop-color="#ff1410"/><stop offset="20%" stop-color="#ff3210"/><stop offset="25%" stop-color="#ff6e0a"/><stop offset="30%" stop-color="#ffaa0a"/><stop offset="35%" stop-color="#ffe114"/><stop offset="37.5%" stop-color="#fafa1e"/><stop offset="40%" stop-color="#d7fa1e"/><stop offset="45%" stop-color="#aaf528"/><stop offset="50%" stop-color="#8cf03c"/><stop offset="55%" stop-color="#78f582"/><stop offset="60%" stop-color="#70f5c8"/><stop offset="65%" stop-color="#64ebfa"/><stop offset="70%" stop-color="#54beff"/><stop offset="75%" stop-color="#3c78fa"/><stop offset="80%" stop-color="#2850f5"/><stop offset="90%" stop-color="#1834e8"/><stop offset="100%" stop-color="#0818be"/></linearGradient>
<rect x="531.2" y="302.3" width="26.3" height="204" fill="url(#gd)" stroke="#000" stroke-width="1.3"/>
<text x="561.9" y="307.7" class="t">1</text>
<line x1="531.2" y1="322.7" x2="557.5" y2="322.7" stroke="#000" stroke-width="1.1"/>
<text x="561.9" y="328.1" class="t">0.8</text>
<line x1="531.2" y1="343.1" x2="557.5" y2="343.1" stroke="#000" stroke-width="1.1"/>
<text x="561.9" y="348.5" class="t">0.6</text>
<line x1="531.2" y1="363.5" x2="557.5" y2="363.5" stroke="#000" stroke-width="1.1"/>
<text x="561.9" y="368.9" class="t">0.4</text>
<line x1="531.2" y1="383.9" x2="557.5" y2="383.9" stroke="#000" stroke-width="1.1"/>
<text x="561.9" y="389.3" class="t">0.2</text>
<line x1="531.2" y1="404.3" x2="557.5" y2="404.3" stroke="#000" stroke-width="1.1"/>
<text x="561.9" y="409.7" class="t">0</text>
<line x1="531.2" y1="424.7" x2="557.5" y2="424.7" stroke="#000" stroke-width="1.1"/>
<text x="561.9" y="430.1" class="t">−0.2</text>
<line x1="531.2" y1="445.1" x2="557.5" y2="445.1" stroke="#000" stroke-width="1.1"/>
<text x="561.9" y="450.5" class="t">−0.4</text>
<line x1="531.2" y1="465.5" x2="557.5" y2="465.5" stroke="#000" stroke-width="1.1"/>
<text x="561.9" y="470.9" class="t">−0.6</text>
<line x1="531.2" y1="485.9" x2="557.5" y2="485.9" stroke="#000" stroke-width="1.1"/>
<text x="561.9" y="491.3" class="t">−0.8</text>
<text x="561.9" y="511.7" class="t">−1</text>
<text x="334.2" y="291.5" class="ti" letter-spacing="0.08"><tspan class="b">(d)</tspan> MOS 1– mean((f–o)<tspan dy="-6.5" dx="1.2" font-size="10.5">2</tspan><tspan dy="6.5">)/mean(o</tspan><tspan dy="-6.5" dx="1.2" font-size="10.5">2</tspan><tspan dy="6.5">)</tspan></text>
</g>
</svg>
</body></html>
